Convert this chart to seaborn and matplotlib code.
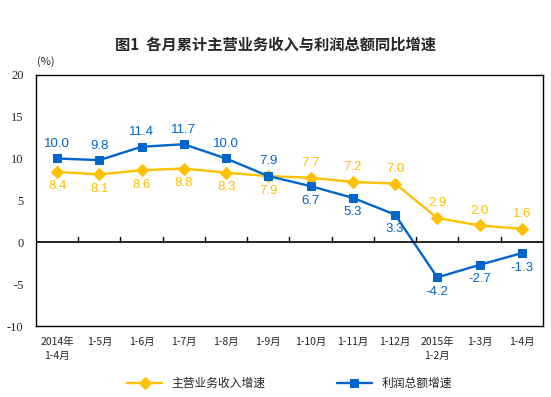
import matplotlib
matplotlib.use("Agg")
import matplotlib.pyplot as plt
import seaborn as sns
import numpy as np

months = ["2014年\n1-4月", "1-5月", "1-6月", "1-7月", "1-8月", "1-9月",
          "1-10月", "1-11月", "1-12月", "2015年\n1-2月", "1-3月", "1-4月"]
revenue = [8.4, 8.1, 8.6, 8.8, 8.3, 7.9, 7.7, 7.2, 7.0, 2.9, 2.0, 1.6]
profit = [10.0, 9.8, 11.4, 11.7, 10.0, 7.9, 6.7, 5.3, 3.3, -4.2, -2.7, -1.3]
# label above (1) or below (-1) each point
rev_side = [-1, -1, -1, -1, -1, -1, 1, 1, 1, 1, 1, 1]
pro_side = [1, 1, 1, 1, 1, 1, -1, -1, -1, -1, -1, -1]

yellow = "#FFC000"
blue = "#0066CC"

sns.set_style("white")
plt.rcParams['font.family'] = ['Noto Sans CJK SC', 'DejaVu Sans']

fig = plt.figure(figsize=(5.51, 3.97), dpi=100)
ax = fig.add_axes([0.0653, 0.1788, 0.92, 0.633])

x = np.arange(len(months))
sns.lineplot(x=x, y=revenue, ax=ax, color=yellow, marker="D", markersize=6,
             markeredgecolor=yellow, linewidth=1.7, label="主营业务收入增速")
sns.lineplot(x=x, y=profit, ax=ax, color=blue, marker="s", markersize=5.5,
             markeredgecolor=blue, linewidth=1.7, label="利润总额增速")

for i in range(len(x)):
    ax.annotate(f"{revenue[i]:.1f}", (x[i], revenue[i]), xytext=(0, 10.5 * rev_side[i]),
                textcoords="offset points", ha="center", va="center",
                color=yellow, fontsize=9.5, family="Liberation Sans")
    ax.annotate(f"{profit[i]:.1f}", (x[i], profit[i]), xytext=(0, 10.5 * pro_side[i]),
                textcoords="offset points", ha="center", va="center",
                color=blue, fontsize=9.5, family="Liberation Sans")

ax.set_xlim(-0.5, len(months) - 0.5)
ax.set_ylim(-10, 20)
ax.set_yticks(range(-10, 21, 5))
ax.set_yticklabels([str(v) for v in range(-10, 21, 5)], family="Liberation Serif", fontsize=9)
ax.tick_params(axis="y", length=0, pad=9)

# x-axis drawn at zero with upward boundary ticks
ax.axhline(0, color="black", linewidth=1.2)
for b in np.arange(0.5, len(months) - 0.5, 1):
    ax.plot([b, b], [0, 0.6], color="black", linewidth=1)
ax.set_xticks(x)
ax.set_xticklabels(months, fontsize=7.5, linespacing=1.5)
ax.tick_params(axis="x", length=0, pad=8)

for s in ax.spines.values():
    s.set_color("black")
    s.set_linewidth(1)

fig.text(0.5, 0.887, "图1  各月累计主营业务收入与利润总额同比增速", ha="center", va="center",
         fontsize=11, fontweight="bold")
fig.text(0.068, 0.845, "(%)", ha="left", va="center", fontsize=8)

ax.legend(loc="upper center", bbox_to_anchor=(0.5, -0.16), ncol=2, frameon=False,
          fontsize=8.5, columnspacing=6, handlelength=3)

fig.savefig("out.png", dpi=100)
